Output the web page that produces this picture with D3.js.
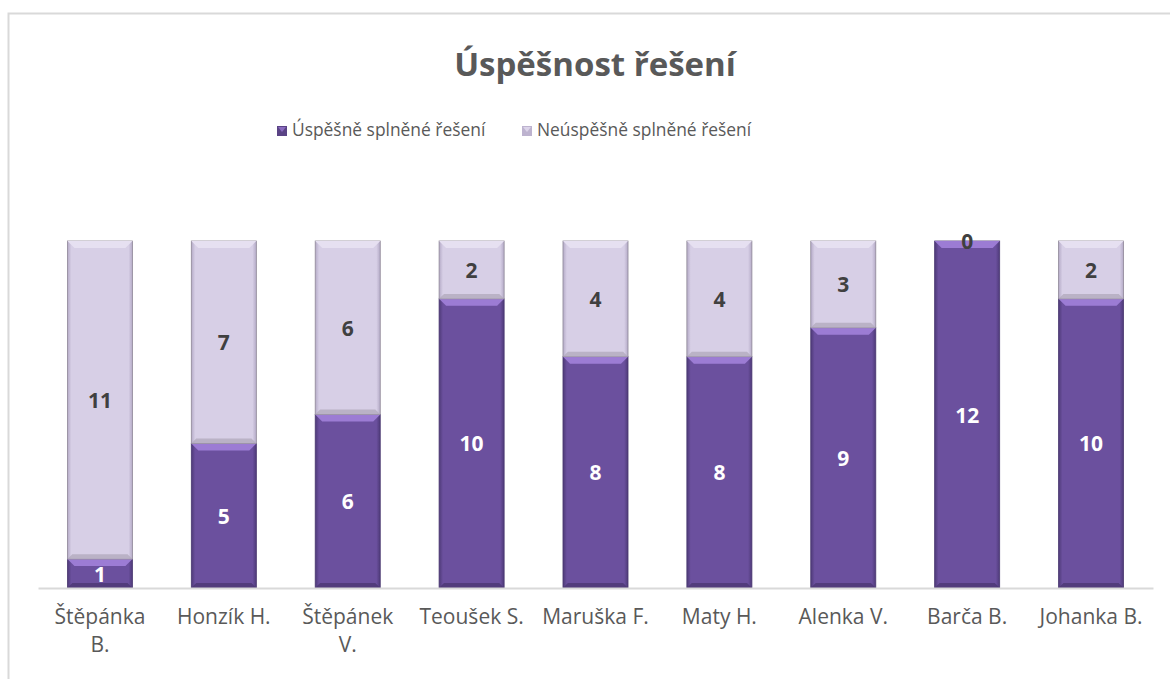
<!DOCTYPE html>
<html>
<head>
<meta charset="utf-8">
<script src="https://cdnjs.cloudflare.com/ajax/libs/d3/7.8.5/d3.min.js"></script>
<style>
  html, body { margin: 0; padding: 0; background: #fff; }
  svg text { font-family: "Open Sans", sans-serif; }
</style>
</head>
<body>
<svg id="chart" width="1170" height="679"></svg>
<script>
// data
var categories = ["Štěpánka B.", "Honzík H.", "Štěpánek V.", "Teoušek S.", "Maruška F.", "Maty H.", "Alenka V.", "Barča B.", "Johanka B."];
var tickLines = [["Štěpánka", "B."], ["Honzík H."], ["Štěpánek", "V."], ["Teoušek S."], ["Maruška F."], ["Maty H."], ["Alenka V."], ["Barča B."], ["Johanka B."]];
var uspesne = [1, 5, 6, 10, 8, 8, 9, 12, 10];
var neuspesne = [11, 7, 6, 2, 4, 4, 3, 0, 2];
var seriesNames = ["Úspěšně splněné řešení", "Neúspěšně splněné řešení"];

var svg = d3.select("#chart");

// frame
svg.append("rect")
	.attr("x", 8.5).attr("y", 13.5)
	.attr("width", 1200).attr("height", 700)
	.attr("fill", "#fff").attr("stroke", "#d9d9d9").attr("stroke-width", 2);

// plot area (note: "top" is reserved on window, so use other names)
var plotLeft = 38, plotRight = 1153, plotTop = 241, plotBottom = 588;

var x = d3.scaleBand().domain(categories).range([plotLeft, plotRight]).paddingInner(0.475).paddingOuter(0.2375);
var y = d3.scaleLinear().domain([0, 12]).range([plotBottom, plotTop]);

// title
svg.append("text")
	.attr("x", 595).attr("y", 76)
	.attr("text-anchor", "middle")
	.attr("font-size", 33).attr("font-weight", "bold")
	.attr("fill", "#595959")
	.text("Úspěšnost řešení");

// legend
var legendColors = [["#5a4385", "#8a6cc0"], ["#bdb3cf", "#dcd4ea"]];
var legendX = [277, 522];
seriesNames.forEach(function(name, i) {
	var g = svg.append("g").attr("transform", "translate(" + legendX[i] + ",126)");
	g.append("rect").attr("width", 10).attr("height", 10).attr("fill", legendColors[i][0]);
	g.append("path").attr("d", "M1,1 L9,1 L5,6 Z").attr("fill", legendColors[i][1]);
	g.append("text").attr("x", 15).attr("y", 10)
		.attr("font-size", 17.4).attr("fill", "#595959").text(name);
});

// gradients
var defs = svg.append("defs");
function hgrad(id, edge, mid) {
	var gr = defs.append("linearGradient").attr("id", id).attr("x1", "0").attr("x2", "1").attr("y1", "0").attr("y2", "0");
	gr.append("stop").attr("offset", "0").attr("stop-color", edge);
	gr.append("stop").attr("offset", "0.06").attr("stop-color", mid);
	gr.append("stop").attr("offset", "0.94").attr("stop-color", mid);
	gr.append("stop").attr("offset", "1").attr("stop-color", edge);
}
hgrad("gDark", "#4e3a78", "#6b509e");
hgrad("gLight", "#b4aac6", "#d7cfe6");

var styles = [
	{ fill: "url(#gDark)", bevel: "#9c7cd4", bottom: "#4a3570", stroke: "#4a3870", label: "#ffffff" },
	{ fill: "url(#gLight)", bevel: "#e6e0f1", bottom: "#b0a8bb", stroke: "#8f8898", label: "#404040" }
];

// stacked segments
var stackData = categories.map(function(c, i) {
	return { cat: c, s: uspesne[i], n: neuspesne[i] };
});
var stack = d3.stack().keys(["s", "n"])(stackData);

var bev = 7;
stack.forEach(function(layer, li) {
	var st = styles[li];
	var g = svg.append("g");
	layer.forEach(function(d) {
		var x0 = x(d.data.cat), w = x.bandwidth();
		var y0 = y(d[1]), y1 = y(d[0]);
		var h = y1 - y0;
		if (h > 0) {
			g.append("rect").attr("x", x0).attr("y", y0).attr("width", w).attr("height", h)
				.attr("fill", st.fill).attr("stroke", st.stroke).attr("stroke-width", 0.8);
			var b = Math.min(bev, h / 2);
			// top bevel
			g.append("path")
				.attr("d", "M" + x0 + "," + y0 + " L" + (x0 + w) + "," + y0 + " L" + (x0 + w - b) + "," + (y0 + b) + " L" + (x0 + b) + "," + (y0 + b) + " Z")
				.attr("fill", st.bevel);
			// bottom bevel
			var bb = b * 0.7;
			g.append("path")
				.attr("d", "M" + x0 + "," + y1 + " L" + (x0 + w) + "," + y1 + " L" + (x0 + w - bb) + "," + (y1 - bb) + " L" + (x0 + bb) + "," + (y1 - bb) + " Z")
				.attr("fill", st.bottom).attr("opacity", 0.75);
		}
		var val = d[1] - d[0];
		var ly = h > 0 ? (y0 + y1) / 2 : y0;
		g.append("text")
			.attr("x", x0 + w / 2).attr("y", ly + 8)
			.attr("text-anchor", "middle")
			.attr("font-size", 21).attr("font-weight", "bold")
			.attr("fill", h > 0 ? st.label : "#404040")
			.text(val);
	});
});

// axis line only
var axis = svg.append("g").attr("transform", "translate(0," + plotBottom + ")")
	.call(d3.axisBottom(x).tickSize(0).tickFormat(""));
axis.selectAll(".tick").remove();
axis.select(".domain").attr("stroke", "#d9d9d9").attr("stroke-width", 2);

// tick labels
categories.forEach(function(c, i) {
	var cx = x(c) + x.bandwidth() / 2;
	var t = svg.append("text")
		.attr("x", cx).attr("y", 624)
		.attr("text-anchor", "middle")
		.attr("font-size", 21).attr("fill", "#595959");
	tickLines[i].forEach(function(line, j) {
		t.append("tspan").attr("x", cx).attr("dy", j === 0 ? 0 : 28).text(line);
	});
});
</script>
</body>
</html>
